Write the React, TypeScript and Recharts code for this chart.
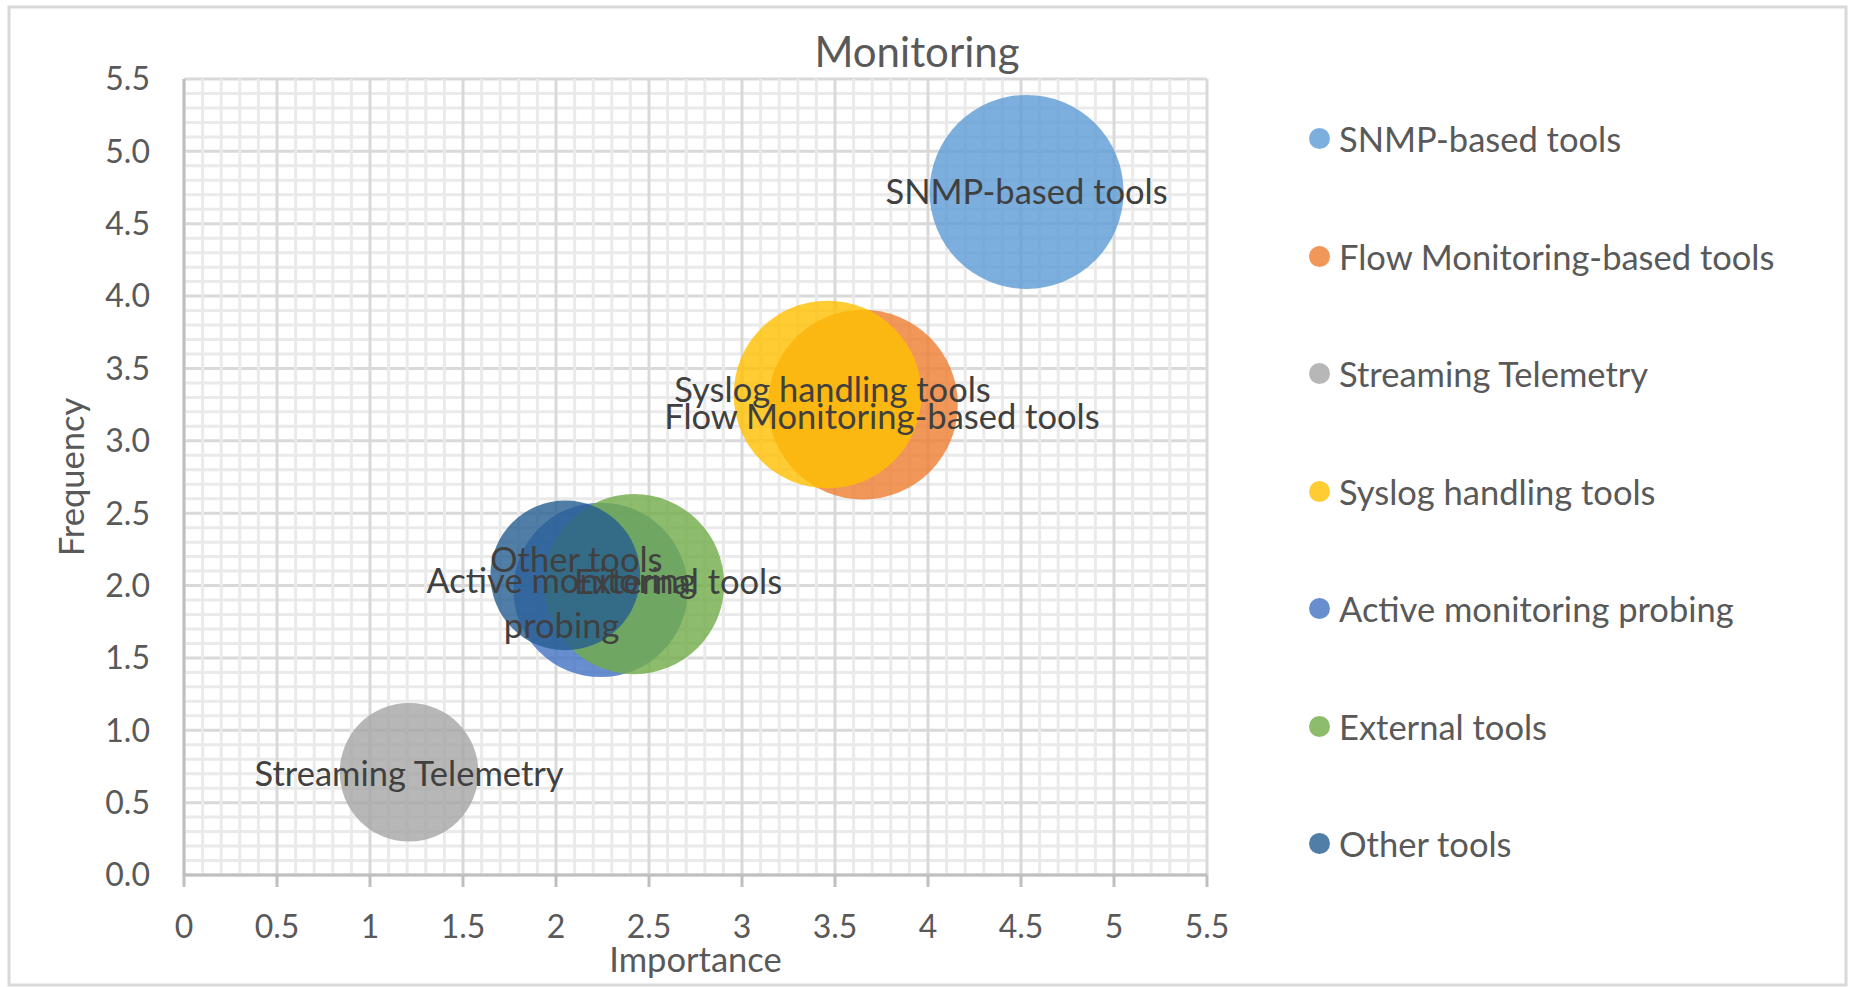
import React from "react";
import {
  ScatterChart,
  Scatter,
  XAxis,
  YAxis,
  ZAxis,
  ReferenceLine,
  LabelList,
  Legend,
  Label,
} from "recharts";

const SERIES = [
  "SNMP-based tools",
  "Flow Monitoring-based tools",
  "Streaming Telemetry",
  "Syslog handling tools",
  "Active monitoring probing",
  "External tools",
  "Other tools",
];
const IMPORTANCE = [4.53, 3.65, 1.21, 3.46, 2.24, 2.42, 2.05];
const FREQUENCY = [4.72, 3.25, 0.71, 3.32, 1.97, 2.01, 2.07];
const BUBBLE_SIZE = [4.7, 4.5, 2.4, 4.4, 3.8, 4.05, 2.8];
const AXIS_TICKS = [0, 0.5, 1, 1.5, 2, 2.5, 3, 3.5, 4, 4.5, 5, 5.5];
const MINOR_STEPS = [0.1, 0.2, 0.3, 0.4];

const COLORS = ["#5b9bd5", "#ed7d31", "#a5a5a5", "#ffc000", "#4472c4", "#70ad47", "#255e91"];
// Excel moved some labels off-centre; pixel nudges per series
const LABEL_NUDGE = [[0, 0], [19, 12], [0, 2], [5, -5], [-39, 14], [44, -2], [11, -15]];
const LABEL_LINES: Record<string, string[]> = {
  "Active monitoring probing": ["Active monitoring", "probing"],
};

const MINOR_TICKS = AXIS_TICKS.slice(0, -1).flatMap((t) =>
  MINOR_STEPS.map((s) => +(t + s).toFixed(1))
);

const FONT = "Lato, 'Open Sans', sans-serif";
const TEXT = "#595959";
const MAX_R = 97;
const LABEL_FS = 34.5;

function BubbleLabel(props: any) {
  const vb = props.viewBox ?? props;
  const i = props.seriesIndex;
  const cx = vb.x + vb.width / 2 + LABEL_NUDGE[i][0];
  const cy = vb.y + vb.height / 2 + LABEL_NUDGE[i][1];
  const lines = LABEL_LINES[SERIES[i]] ?? [SERIES[i]];
  const lh = 45;
  return (
    <text textAnchor="middle" fontFamily={FONT} fontSize={LABEL_FS} fill="#404040">
      {lines.map((l, k) => (
        <tspan key={k} x={cx} y={cy + (k - (lines.length - 1) / 2) * lh} dy="0.35em">
          {l}
        </tspan>
      ))}
    </text>
  );
}

function renderLegend(props: any) {
  const items = [...(props.payload ?? [])].sort(
    (a: any, b: any) => SERIES.indexOf(a.value) - SERIES.indexOf(b.value)
  );
  return (
    <div style={{ fontFamily: FONT, fontSize: LABEL_FS, color: TEXT }}>
      {items.map((entry: any) => (
        <div key={entry.value} style={{ display: "flex", alignItems: "center", height: 117.5 }}>
          <span
            style={{
              display: "inline-block",
              width: 21,
              height: 21,
              borderRadius: "50%",
              background: COLORS[SERIES.indexOf(entry.value)],
              opacity: 0.8,
              marginRight: 9,
            }}
          />
          <span style={{ whiteSpace: "nowrap" }}>{entry.value}</span>
        </div>
      ))}
    </div>
  );
}

export default function App() {
  return (
    <div style={{ position: "absolute", left: 0, top: 0, width: 1851, height: 987, background: "#fff" }}>
      <ScatterChart width={1851} height={987} margin={{ top: 79, right: 644, bottom: 0, left: 0 }}>
        {MINOR_TICKS.map((v) => (
          <ReferenceLine key={"mh" + v} y={v} stroke="#eaeaea" strokeWidth={3} zIndex={-100} />
        ))}
        {AXIS_TICKS.map((v) => (
          <ReferenceLine key={"Mh" + v} y={v} stroke="#d9d9d9" strokeWidth={3} zIndex={-100} />
        ))}
        {MINOR_TICKS.map((v) => (
          <ReferenceLine key={"mv" + v} x={v} stroke="#eaeaea" strokeWidth={3} zIndex={-100} />
        ))}
        {AXIS_TICKS.map((v) => (
          <ReferenceLine key={"Mv" + v} x={v} stroke="#d9d9d9" strokeWidth={3} zIndex={-100} />
        ))}
        <XAxis
          type="number"
          dataKey="x"
          domain={[0, 5.5]}
          ticks={AXIS_TICKS}
          interval={0}
          height={112}
          tickSize={12}
          tickMargin={28}
          axisLine={{ stroke: "#bfbfbf", strokeWidth: 3 }}
          tickLine={{ stroke: "#bfbfbf", strokeWidth: 3 }}
          tick={{ fill: TEXT, fontSize: 32, fontFamily: FONT }}
          tickFormatter={(v) => String(v)}
          label={
            <Label
              content={(p: any) => (
                <text
                  x={p.viewBox.x + p.viewBox.width / 2}
                  y={972}
                  textAnchor="middle"
                  fontFamily={FONT}
                  fontSize={LABEL_FS}
                  fill={TEXT}
                >
                  Importance
                </text>
              )}
            />
          }
        />
        <YAxis
          type="number"
          dataKey="y"
          domain={[0, 5.5]}
          ticks={AXIS_TICKS}
          interval={0}
          width={184}
          tickSize={0}
          tickMargin={34}
          axisLine={{ stroke: "#bfbfbf", strokeWidth: 3 }}
          tickLine={false}
          tick={{ fill: TEXT, fontSize: 32, fontFamily: FONT }}
          tickFormatter={(v) => Number(v).toFixed(1)}
          label={
            <Label
              content={(p: any) => {
                const cy = p.viewBox.y + p.viewBox.height / 2;
                return (
                  <text
                    x={84}
                    y={cy}
                    transform={`rotate(-90, 84, ${cy})`}
                    textAnchor="middle"
                    fontFamily={FONT}
                    fontSize={LABEL_FS}
                    fill={TEXT}
                  >
                    Frequency
                  </text>
                );
              }}
            />
          }
        />
        <ZAxis
          type="number"
          dataKey="z"
          domain={[0, Math.max(...BUBBLE_SIZE)]}
          range={[0, Math.PI * MAX_R * MAX_R]}
        />
        <Legend
          layout="vertical"
          align="center"
          verticalAlign="middle"
          content={renderLegend}
          wrapperStyle={{ left: 1309, top: 80, width: 540 }}
        />
        {SERIES.map((name, i) => (
          <Scatter
            key={name}
            name={name}
            data={[{ x: IMPORTANCE[i], y: FREQUENCY[i], z: BUBBLE_SIZE[i] }]}
            fill={COLORS[i]}
            isAnimationActive={false}
            shape={(p: any) => (
              <circle cx={p.cx} cy={p.cy} r={Math.sqrt(p.size / Math.PI)} fill={COLORS[i]} fillOpacity={0.8} />
            )}
          >
            <LabelList dataKey="x" content={(p: any) => <BubbleLabel {...p} seriesIndex={i} />} />
          </Scatter>
        ))}
      </ScatterChart>
      <svg
        width={1851}
        height={987}
        style={{ position: "absolute", left: 0, top: 0, pointerEvents: "none" }}
      >
        <rect x={9} y={7} width={1837} height={978} fill="none" stroke="#d9d9d9" strokeWidth={3} />
        <text x={917} y={67} textAnchor="middle" fontFamily={FONT} fontSize={42} fill={TEXT}>
          Monitoring
        </text>
      </svg>
    </div>
  );
}
